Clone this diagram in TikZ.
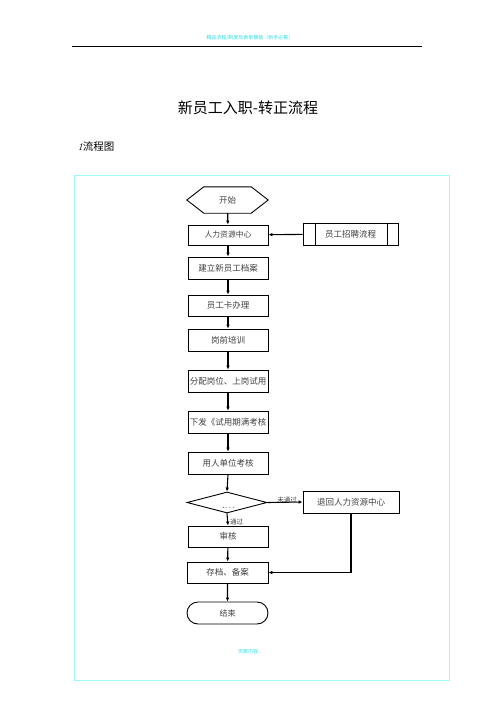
\documentclass[tikz,border=0pt]{standalone}
\usepackage{fontspec}
\newfontfamily\cjk{Noto Sans CJK SC}
\usetikzlibrary{arrows.meta,shapes.geometric,shapes.misc}
\definecolor{framecyan}{RGB}{160,250,250}
\definecolor{headcyan}{RGB}{40,225,230}
\begin{document}
\begin{tikzpicture}[x=1pt,y=-1pt,
  box/.style={draw,line width=0.9pt,minimum width=80pt,minimum height=22pt,inner sep=0pt,
    font=\cjk\fontsize{8.5}{10}\selectfont,text=black!75},
  flow/.style={line width=1.1pt,-{Latex[length=4pt,width=3.6pt]}},
  lbl/.style={font=\cjk\fontsize{6.5}{7}\selectfont,text=black!75,inner sep=0pt}]
\useasboundingbox (0,0) rectangle (496,702);
% header
\node[font=\cjk\fontsize{5}{6}\selectfont,text=headcyan] (head) at (250,38) {精品流程/制度及表单模板（新手必看）};
\coordinate (hl) at (72,46);
\coordinate (hr) at (422,46);
\draw[line width=0.8pt] (hl) -- (hr);
% title
\node[font=\cjk\fontsize{15}{18}\selectfont] (title) at (248,108) {新员工入职-转正流程};
\node[anchor=west,font=\cjk\fontsize{10.5}{12}\selectfont] (sub) at (74,147) {{\rmfamily\itshape 1}流程图};
% frame
\draw[framecyan,line width=0.8pt] (74,175) rectangle (449,680);
\node[font=\cjk\fontsize{5}{6}\selectfont,text=headcyan] (foot) at (248,652) {页脚内容};
% nodes
\node[minimum width=81pt,minimum height=26pt,inner sep=0pt,font=\cjk\fontsize{8.5}{10}\selectfont,text=black!75] (start) at (227.5,200) {开始};
\draw[line width=0.9pt] (start.west) -- ([xshift=17pt]start.north west) -- ([xshift=-17pt]start.north east) -- (start.east) -- ([xshift=-17pt]start.south east) -- ([xshift=17pt]start.south west) -- cycle;
\node[box,minimum height=20pt,font=\cjk\fontsize{7.8}{9}\selectfont] (hrc) at (228,235) {人力资源中心};
\node[box,minimum width=95pt] (zp) at (350.5,234) {员工招聘流程};
\draw[line width=0.9pt] ([xshift=13pt]zp.north west) -- ([xshift=13pt]zp.south west);
\draw[line width=0.9pt] ([xshift=-11pt]zp.north east) -- ([xshift=-11pt]zp.south east);
\node[box] (jl) at (228,268) {建立新员工档案};
\node[box,minimum height=21pt] (card) at (228,305.5) {员工卡办理};
\node[box] (gq) at (228,340) {岗前培训};
\node[box] (fp) at (228,381) {分配岗位、上岗试用};
\node[box] (xf) at (228,422) {下发《试用期满考核};
\node[box] (yr) at (228,463) {用人单位考核};
\node[draw,line width=0.9pt,diamond,aspect=3.8,minimum width=80pt,minimum height=21pt,inner sep=0pt] (dm) at (227,502.5) {};
\begin{scope}
\clip (200,503) rectangle (255,507.5);
\node[font=\cjk\fontsize{8.5}{10}\selectfont,text=black!75] (dmt) at (228,511) {考核};
\end{scope}
\node[box,minimum width=96pt] (th) at (351,502) {退回人力资源中心};
\node[box,minimum height=21pt] (sh) at (228,536.5) {审核};
\node[box,minimum width=81pt,minimum height=21pt] (cd) at (227.5,572.5) {存档、备案};
\node[draw,line width=0.9pt,rounded rectangle,minimum width=81pt,minimum height=22pt,inner sep=0pt,font=\cjk\fontsize{8}{9}\selectfont,text=black!75] (end) at (227.5,613) {结束};
% connectors
\draw[flow] (start) -- (hrc);
\draw[flow] (zp) -- (hrc);
\draw[flow] (hrc) -- (jl);
\draw[flow] (jl) -- (card);
\draw[flow] (card) -- (gq);
\draw[flow] (gq) -- (fp);
\draw[flow] (fp) -- (xf);
\draw[flow] (xf) -- (yr);
\draw[flow] (yr.south) -- (dm.north);
\draw[flow] (dm.south) -- (sh.north);
\draw[flow] (dm.east) -- (th.west);
\draw[flow] (sh) -- (cd);
\draw[flow] (cd) -- (end);
\draw[flow] (th.south) |- (cd.east);
\node[lbl,anchor=west] (tg) at (230,521.5) {通过};
\node[lbl] (wtg) at (287,500.5) {未通过};
\end{tikzpicture}
\end{document}
